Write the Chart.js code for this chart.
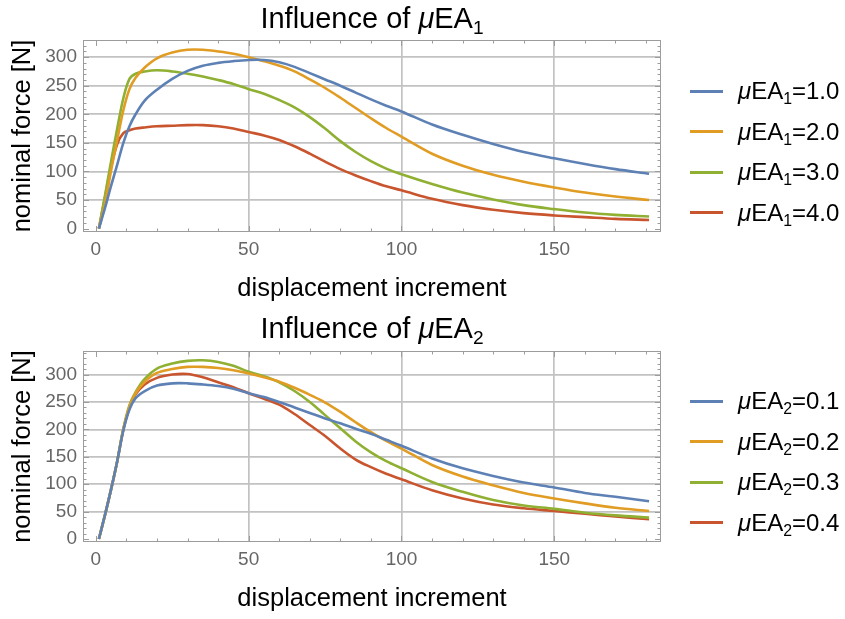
<!DOCTYPE html>
<html>
<head>
<meta charset="utf-8">
<script src="https://cdn.jsdelivr.net/npm/chart.js@4.4.1/dist/chart.umd.min.js"></script>
<style>
html, body { margin: 0; padding: 0; background: #fff; }
body { width: 845px; height: 619px; position: relative; overflow: hidden; font-family: "Liberation Sans", Arial, sans-serif; }
.panel { position: absolute; left: 0; width: 845px; height: 310px; }
.panel canvas { position: absolute; left: 0; top: 0; }
.title { position: absolute; left: 0; top: 2px; width: 744px; text-align: center; font-size: 29px; line-height: 32px; color: #000; }
.legend { position: absolute; left: 690px; top: 71px; }
.row { display: flex; align-items: center; height: 40.5px; }
.swatch { width: 33px; height: 3px; margin-right: 15px; }
.lbl { font-size: 24px; line-height: 24px; color: #000; white-space: nowrap; }
sub { font-size: 0.66em; vertical-align: -0.3em; line-height: 0; }
</style>
</head>
<body>
<div class="panel" style="top:0">
  <canvas id="chart1" width="744" height="310"></canvas>
  <div class="title">Influence of <i>μ</i>EA<sub>1</sub></div>
  <div class="legend" id="legend1"></div>
</div>
<div class="panel" style="top:310px">
  <canvas id="chart2" width="744" height="310"></canvas>
  <div class="title">Influence of <i>μ</i>EA<sub>2</sub></div>
  <div class="legend" id="legend2"></div>
</div>
<script>
// displacement increments the curves were read at
const increments = [1, 3, 5, 7, 9, 11, 13, 16, 20, 25, 30, 35, 40, 45, 50, 55, 60, 65, 70, 75, 80, 85, 90, 95, 100, 110, 120, 130, 140, 150, 160, 170, 181];

// top panel: influence of muEA1
const ea1Values = ['1.0', '2.0', '3.0', '4.0'];
const ea1Force10 = [0, 36, 75, 112, 150, 179, 200, 224, 243, 262, 276, 285, 290, 293, 295, 295, 291, 283, 272, 261, 250, 238, 226, 215, 205, 182, 164, 148, 134, 123, 113, 104, 96];
const ea1Force20 = [0, 43, 102, 155, 207, 244, 264, 282, 298, 308, 313, 313, 310, 306, 300, 293, 285, 275, 261, 246, 229, 211, 193, 176, 161, 131, 110, 94, 82, 72, 63, 56, 50];
const ea1Force30 = [0, 58, 118, 175, 228, 262, 271, 275, 277, 275, 271, 266, 260, 253, 244, 236, 225, 212, 195, 175, 153, 134, 118, 105, 95, 78, 63, 51, 41, 34, 28, 24, 21];
const ea1Force40 = [0, 55, 108, 148, 167, 172, 175, 177, 179, 180, 181, 181, 179, 175, 169, 163, 155, 144, 131, 117, 104, 93, 83, 74, 67, 52, 41, 33, 27, 23, 20, 17, 15];

// bottom panel: influence of muEA2
const ea2Values = ['0.1', '0.2', '0.3', '0.4'];
const ea2Force01 = [0, 44, 91, 142, 198, 236, 257, 270, 280, 284, 284, 282, 279, 274, 266, 259, 250, 240, 230, 220, 211, 201, 192, 181, 170, 147, 129, 115, 103, 94, 84, 77, 69];
const ea2Force02 = [0, 44, 91, 142, 200, 242, 266, 287, 303, 310, 314, 314, 312, 308, 302, 295, 287, 276, 263, 249, 232, 213, 195, 179, 165, 135, 114, 98, 84, 74, 65, 57, 51];
const ea2Force03 = [0, 44, 91, 142, 201, 244, 268, 292, 311, 320, 325, 326, 323, 316, 305, 297, 286, 270, 250, 226, 202, 178, 158, 142, 129, 104, 86, 71, 61, 55, 48, 43, 39];
const ea2Force04 = [0, 44, 91, 142, 200, 240, 264, 282, 294, 300, 301, 295, 286, 277, 266, 256, 245, 228, 208, 188, 165, 145, 131, 119, 109, 89, 74, 63, 56, 51, 46, 41, 36];

const xTicks = [0, 50, 100, 150];
const yTicks = [0, 50, 100, 150, 200, 250, 300];

const colors = ['#5e81b5', '#e19c24', '#8fb032', '#c9552e'];
const gridColor = '#c2c2c2';
const frameColor = '#9c9c9c';

Chart.defaults.font.family = '"Liberation Sans", Arial, sans-serif';

// Mathematica style frame with inward major/minor ticks
const frameTicks = {
    id: 'frameTicks',
    afterDraw(chart) {
        const { ctx, chartArea: a, scales: { x, y } } = chart;
        ctx.save();
        ctx.strokeStyle = frameColor;
        ctx.lineWidth = 1;
        ctx.strokeRect(a.left + 0.5, a.top + 0.5, a.right - a.left - 1, a.bottom - a.top - 1);
        ctx.beginPath();
        for (let v = 0; v <= x.max; v += 10) {
            const px = Math.round(x.getPixelForValue(v)) + 0.5;
            const len = v % 50 === 0 ? 6 : 3.5;
            ctx.moveTo(px, a.bottom); ctx.lineTo(px, a.bottom - len);
            ctx.moveTo(px, a.top); ctx.lineTo(px, a.top + len);
        }
        for (let v = 0; v <= y.max; v += 10) {
            const py = Math.round(y.getPixelForValue(v)) + 0.5;
            const len = v % 50 === 0 ? 6 : 3.5;
            ctx.moveTo(a.left, py); ctx.lineTo(a.left + len, py);
            ctx.moveTo(a.right, py); ctx.lineTo(a.right - len, py);
        }
        ctx.stroke();
        ctx.restore();
    }
};

function makeChart(canvasId, legendId, series, values, sub, yMin, yMax, padTop) {
    const datasets = series.map((vals, i) => ({
        label: 'μEA' + sub + '=' + values[i],
        data: increments.map((inc, j) => ({ x: inc, y: vals[j] })),
        borderColor: colors[i],
        backgroundColor: colors[i],
        borderWidth: 2.6,
        pointRadius: 0,
        fill: false,
        tension: 0.35
    }));

    const chart = new Chart(document.getElementById(canvasId), {
        type: 'line',
        data: { datasets: datasets },
        options: {
            responsive: false,
            animation: false,
            devicePixelRatio: 1,
            layout: { padding: { top: padTop, right: 83, left: 0, bottom: 0 } },
            plugins: {
                legend: { display: false },
                title: { display: false },
                tooltip: { enabled: false }
            },
            scales: {
                x: {
                    type: 'linear',
                    min: -4.2,
                    max: 184.9,
                    afterBuildTicks: s => { s.ticks = xTicks.map(v => ({ value: v })); },
                    afterFit: s => { s.height = 310 - 232; },
                    border: { display: false },
                    grid: {
                        color: c => c.tick && c.tick.value === 0 ? 'rgba(0,0,0,0)' : gridColor,
                        lineWidth: 1.7,
                        drawTicks: false
                    },
                    ticks: { color: '#666', font: { size: 19 }, padding: 6, maxRotation: 0, autoSkip: false },
                    title: { display: true, text: 'displacement increment', color: '#000', font: { size: 25.5 }, padding: { top: 0, bottom: 6 } }
                },
                y: {
                    type: 'linear',
                    min: yMin,
                    max: yMax,
                    afterBuildTicks: s => { s.ticks = yTicks.map(v => ({ value: v })); },
                    afterFit: s => { s.width = 83; },
                    border: { display: false },
                    grid: {
                        color: c => c.tick && c.tick.value === 0 ? 'rgba(0,0,0,0)' : gridColor,
                        lineWidth: 1.7,
                        drawTicks: false
                    },
                    ticks: { color: '#666', font: { size: 19 }, padding: 6, autoSkip: false },
                    title: { display: true, text: 'nominal force [N]', color: '#000', font: { size: 25.5 }, padding: { top: 8, bottom: 0 } }
                }
            }
        },
        plugins: [frameTicks]
    });

    // html legend so the subscript and italic mu come out right
    const legend = document.getElementById(legendId);
    chart.data.datasets.forEach((ds, i) => {
        const row = document.createElement('div');
        row.className = 'row';
        row.innerHTML = '<span class="swatch" style="background:' + ds.borderColor + '"></span>' +
            '<span class="lbl"><i>μ</i>EA<sub>' + sub + '</sub>=' + values[i] + '</span>';
        legend.appendChild(row);
    });
    return chart;
}

makeChart('chart1', 'legend1', [ea1Force10, ea1Force20, ea1Force30, ea1Force40], ea1Values, '1', -6, 330, 40);
makeChart('chart2', 'legend2', [ea2Force01, ea2Force02, ea2Force03, ea2Force04], ea2Values, '2', -5.5, 343, 41);
</script>
</body>
</html>
